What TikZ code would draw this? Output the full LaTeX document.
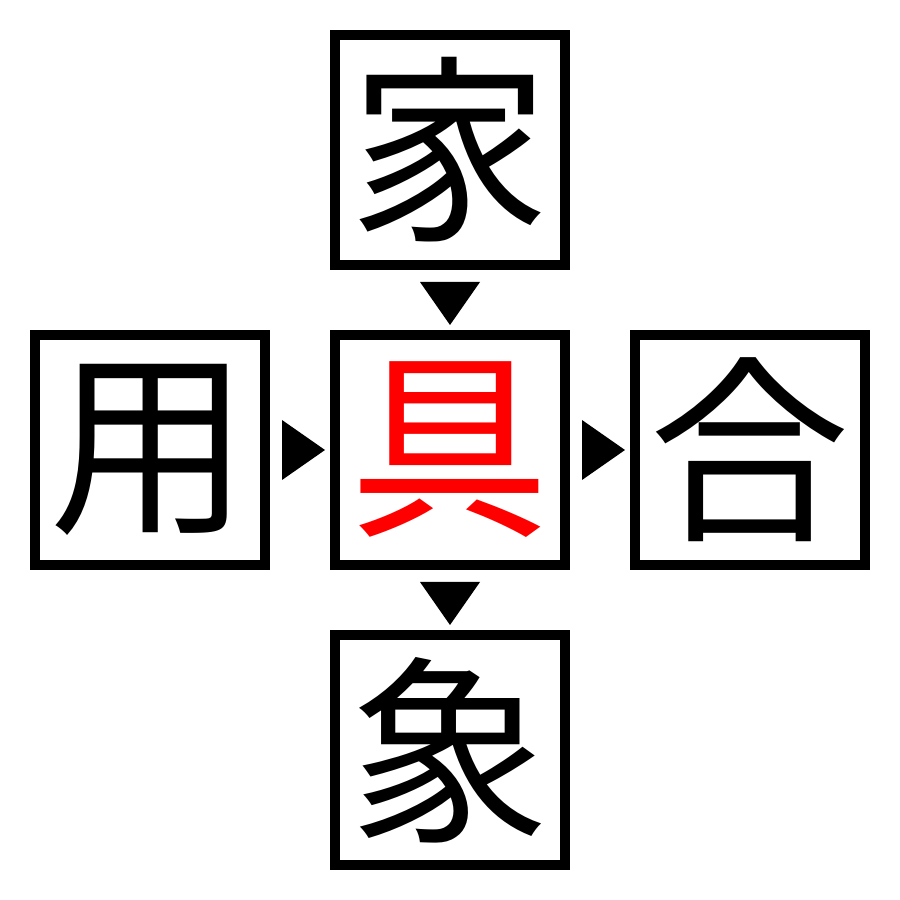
\documentclass[tikz,border=0pt]{standalone}
\usepackage{fontspec}
\newfontfamily\cjk{Noto Sans CJK JP}
\usepackage{tikz}

\begin{document}
\begin{tikzpicture}
[x=1cm,y=1cm]
\tikzset{kbox/.style={draw, line width=0.1cm, minimum size=2.3cm, inner sep=0pt, font=\cjk\fontsize{57}{57}\selectfont}}
\tikzset{tip/.style={fill=black}}
\useasboundingbox (0,0) rectangle (9,9);
\node [kbox] (ie) at (4.5,7.5) {家};
\node [kbox] (you) at (1.5,4.5) {用};
\node [kbox, text=red] (gu) at (4.5,4.5) {具};
\node [kbox] (gou) at (7.5,4.5) {合};
\node [kbox] (zou) at (4.5,1.5) {象};

% arrow heads between the boxes
\foreach \x in {2.82,5.82}
	\fill [tip] (\x,4.8) -- (\x+0.43,4.5) -- (\x,4.2) -- cycle;
\foreach \y in {6.18,3.18}
	\fill [tip] (4.2,\y) -- (4.5,\y-0.43) -- (4.8,\y) -- cycle;
\end{tikzpicture}
\end{document}
